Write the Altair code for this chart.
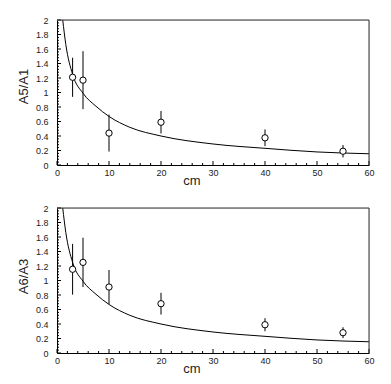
import altair as alt
import pandas as pd

# ---- data ----
dist_cm = [3, 5, 10, 20, 40, 55]
a5_a1 = [1.21, 1.17, 0.44, 0.59, 0.375, 0.19]
a5_a1_err = [0.27, 0.40, 0.255, 0.155, 0.115, 0.085]
a6_a3 = [1.155, 1.25, 0.91, 0.68, 0.39, 0.28]
a6_a3_err = [0.35, 0.34, 0.235, 0.15, 0.09, 0.075]

fit_x = [1.1, 1.7, 3, 5, 7.5, 10, 14, 20, 30, 40, 50, 60]
fit_y = [2.0, 1.66, 1.25, 0.99, 0.81, 0.67, 0.52, 0.40, 0.29, 0.23, 0.18, 0.155]

x_major = [0, 10, 20, 30, 40, 50, 60]
x_minor = [v for v in range(2, 60, 2) if v % 10 != 0]
y_major = [round(i * 0.2, 2) for i in range(11)]
y_minor = [round(i * 0.04, 2) for i in range(51) if i % 5 != 0]

W, H = 312, 145
FONT = "Liberation Sans"

xs = alt.Scale(domain=[0, 60], nice=False, zero=False)
ys = alt.Scale(domain=[0, 2], nice=False, zero=False)


def make_panel(vals, errs, ytitle, ytitle_y):
    df = pd.DataFrame({
        "x": dist_cm,
        "y": vals,
        "lo": [v - e for v, e in zip(vals, errs)],
        "hi": [v + e for v, e in zip(vals, errs)],
    })
    curve = pd.DataFrame({"x": fit_x, "y": fit_y})

    xaxis = alt.Axis(values=x_major, ticks=False, tickSize=0, grid=False,
                     labelFontSize=9, labelPadding=3, labelColor="#222",
                     labelFont=FONT, labelFlush=False, labelOverlap=False,
                     domainColor="#000", domainWidth=1,
                     title="cm", titleFont=FONT, titleFontSize=13,
                     titleFontWeight="normal", titleColor="#222",
                     titleX=134.5, titleY=19.5, titleBaseline="alphabetic",
                     titleAlign="center")
    yaxis = alt.Axis(values=y_major, ticks=False, tickSize=0, grid=False,
                     labelFontSize=9, labelPadding=9, labelColor="#222",
                     labelFont=FONT, labelFlush=False, labelOverlap=False,
                     labelExpr="format(datum.value, '.1~f')",
                     domainColor="#000", domainWidth=1,
                     title=ytitle, titleFont=FONT, titleFontSize=13,
                     titleFontWeight="normal", titleColor="#222",
                     titleAngle=270, titleX=-30, titleY=ytitle_y,
                     titleBaseline="alphabetic", titleAlign="center")

    line = alt.Chart(curve).mark_line(color="black", strokeWidth=1,
                                      interpolate="monotone", clip=True).encode(
        x=alt.X("x:Q", scale=xs, axis=xaxis),
        y=alt.Y("y:Q", scale=ys, axis=yaxis),
    )
    err = alt.Chart(df).mark_rule(color="black", strokeWidth=1).encode(
        x=alt.X("x:Q", scale=xs, axis=xaxis),
        y=alt.Y("lo:Q", scale=ys, axis=yaxis),
        y2="hi:Q",
    )
    pts = alt.Chart(df).mark_point(shape="circle", filled=True, fill="white",
                                   stroke="black", strokeWidth=1, size=40,
                                   opacity=1).encode(
        x=alt.X("x:Q", scale=xs, axis=xaxis),
        y=alt.Y("y:Q", scale=ys, axis=yaxis),
    )
    xmaj = alt.Chart(pd.DataFrame({"t": x_major})).mark_rule(color="black").encode(
        x=alt.X("t:Q", scale=xs, axis=xaxis),
        y=alt.value(H), y2=alt.value(H - 4),
    )
    xmin = alt.Chart(pd.DataFrame({"t": x_minor})).mark_rule(color="black").encode(
        x=alt.X("t:Q", scale=xs, axis=xaxis),
        y=alt.value(H), y2=alt.value(H - 2),
    )
    ymaj = alt.Chart(pd.DataFrame({"t": y_major})).mark_rule(color="black").encode(
        y=alt.Y("t:Q", scale=ys, axis=yaxis),
        x=alt.value(0), x2=alt.value(4),
    )
    ymin = alt.Chart(pd.DataFrame({"t": y_minor})).mark_rule(color="black").encode(
        y=alt.Y("t:Q", scale=ys, axis=yaxis),
        x=alt.value(0), x2=alt.value(2),
    )
    frame_top = alt.Chart(pd.DataFrame({"t": [0]})).mark_rule(color="#333").encode(
        x=alt.value(0), x2=alt.value(W), y=alt.value(0),
    )
    frame_right = alt.Chart(pd.DataFrame({"t": [0]})).mark_rule(color="#333").encode(
        x=alt.value(W), y=alt.value(0), y2=alt.value(H),
    )
    return alt.layer(line, err, pts, xmaj, xmin, ymaj, ymin,
                     frame_top, frame_right).properties(width=W, height=H)


top = make_panel(a5_a1, a5_a1_err, "A5/A1", 66)
bottom = make_panel(a6_a3, a6_a3_err, "A6/A3", 68)

chart = alt.vconcat(top, bottom, spacing=43, bounds="flush").properties(
    padding={"left": 8, "top": 7, "right": 0, "bottom": 0},
).configure_view(stroke=None).configure(font=FONT, background="white")

chart.save("out.html", embed_options={"renderer": "svg", "actions": False})
